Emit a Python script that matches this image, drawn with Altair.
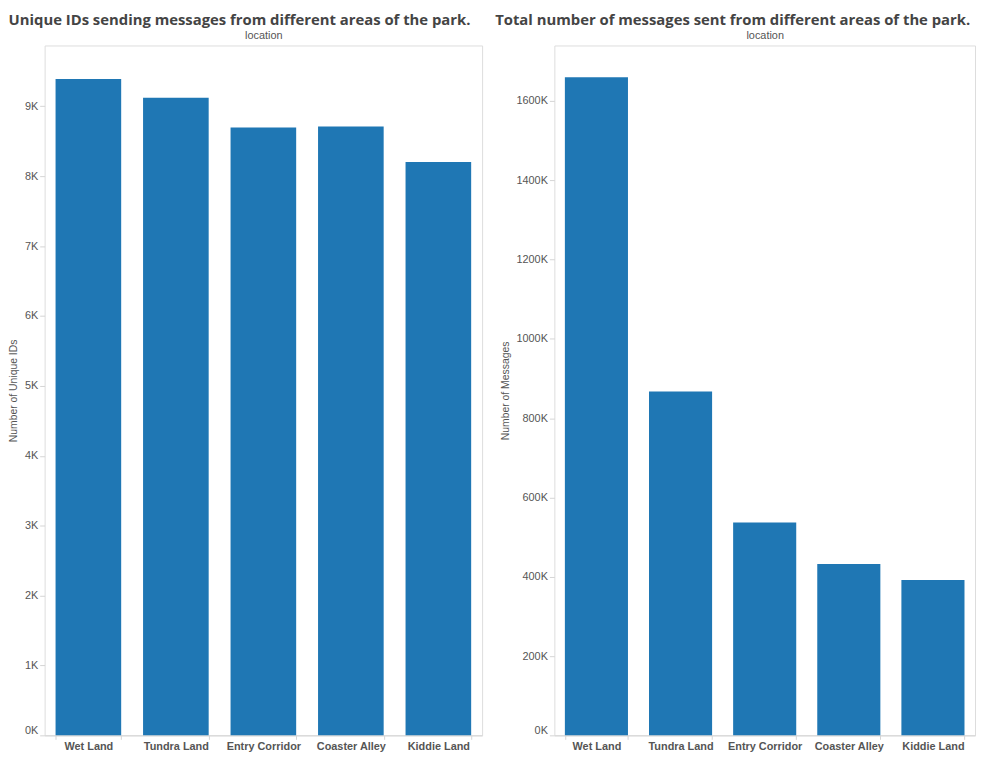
import altair as alt
import pandas as pd

locations = ["Wet Land", "Tundra Land", "Entry Corridor", "Coaster Alley", "Kiddie Land"]
unique_ids = [9392, 9123, 8698, 8712, 8203]
messages = [1660000, 867000, 537000, 432000, 392000]
id_ticks = [0, 1000, 2000, 3000, 4000, 5000, 6000, 7000, 8000, 9000]
msg_ticks = [0, 200000, 400000, 600000, 800000, 1000000, 1200000, 1400000, 1600000]

GRID = "#d4d4d4"
TXT = "#555555"


def panel(values, ytitle, ticks, ymax, title, width, title_pad, title_dx):
    df = pd.DataFrame({"location": locations, "value": values})
    base = alt.Chart(df)
    xscale = alt.Scale(paddingInner=0.25, paddingOuter=0.125)
    bars = base.mark_bar(color="#1f77b4").encode(
        x=alt.X(
            "location:N",
            sort=locations,
            scale=xscale,
            axis=alt.Axis(
                orient="bottom",
                title=None,
                labelAngle=0,
                labelFont="Liberation Sans",
                labelFontSize=11,
                labelFontWeight="bold",
                labelColor=TXT,
                labelPadding=1,
                tickBand="extent",
                tickSize=4,
                tickColor=GRID,
                domainColor=GRID,
            ),
        ),
        y=alt.Y(
            "value:Q",
            scale=alt.Scale(domain=[0, ymax], nice=False, zero=True),
            axis=alt.Axis(
                values=ticks,
                labelExpr="format(datum.value / 1000, 'd') + 'K'",
                labelFlush=True,
                grid=False,
                domain=False,
                tickSize=5,
                tickColor=GRID,
                labelPadding=2,
                labelFont="Liberation Sans",
                labelFontSize=11,
                labelColor=TXT,
                title=ytitle,
                titleFont="Liberation Sans",
                titleFontSize=10.5,
                titleFontWeight="normal",
                titleColor=TXT,
                titlePadding=title_pad,
            ),
        ),
    )
    top = base.mark_point(opacity=0).encode(
        x=alt.X(
            "location:N",
            sort=locations,
            scale=xscale,
            axis=alt.Axis(
                orient="top",
                title="location",
                labels=False,
                ticks=False,
                domain=False,
                titleFont="Liberation Sans",
                titleFontSize=11,
                titleFontWeight="normal",
                titleColor=TXT,
                titlePadding=5,
            ),
        )
    )
    return (
        alt.layer(bars, top)
        .resolve_axis(x="independent")
        .properties(
            width=width,
            height=697,
            title=alt.TitleParams(
                title,
                anchor="start",
                frame="bounds",
                font="Open Sans",
                fontSize=15,
                fontWeight="bold",
                color="#444444",
                offset=2,
                dx=title_dx,
            ),
        )
    )


left = panel(unique_ids, "Number of Unique IDs", id_ticks, 9870,
             "Unique IDs sending messages from different areas of the park.", 442, 6, 0)
right = panel(messages, "Number of Messages", msg_ticks, 1740000,
              "Total number of messages sent from different areas of the park.", 425, 6, -5)

chart = (
    alt.hconcat(left, right, spacing=11)
    .properties(padding=0)
    .configure_view(stroke=GRID)
    .configure(background="white")
)

chart.save("out.html", embed_options={"renderer": "svg", "actions": False})
